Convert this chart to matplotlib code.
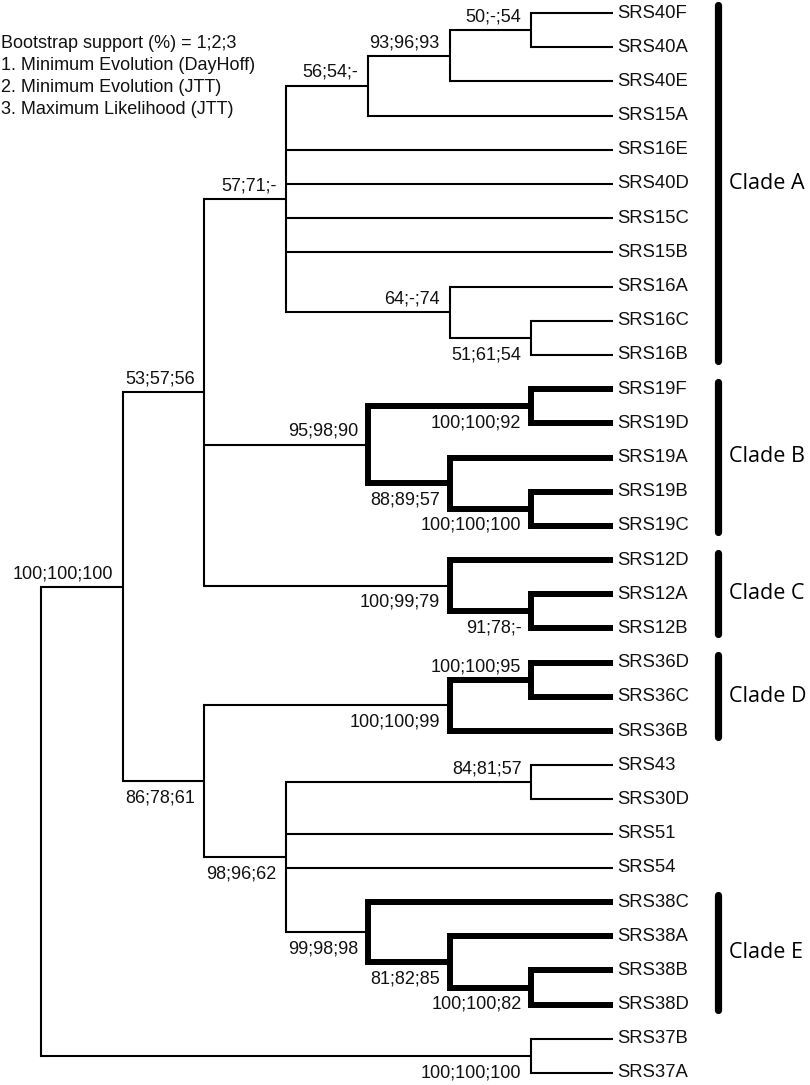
import matplotlib
matplotlib.use("Agg")
import matplotlib.pyplot as plt

# ---- DATA ----
# leaves, top to bottom
leaves = ["SRS40F", "SRS40A", "SRS40E", "SRS15A", "SRS16E", "SRS40D", "SRS15C",
          "SRS15B", "SRS16A", "SRS16C", "SRS16B", "SRS19F", "SRS19D", "SRS19A",
          "SRS19B", "SRS19C", "SRS12D", "SRS12A", "SRS12B", "SRS36D", "SRS36C",
          "SRS36B", "SRS43", "SRS30D", "SRS51", "SRS54", "SRS38C", "SRS38A",
          "SRS38B", "SRS38D", "SRS37B", "SRS37A"]
leaf_level = 7

# internal nodes
node_names = ["root", "ingroup", "ABC", "A", "n56", "n93", "n50", "n64", "n51",
              "B", "n19a", "n88", "n19b", "C", "n91", "DR", "D", "n36", "n98",
              "n84", "E", "n81", "n38", "n37"]
node_levels = [0, 1, 2, 3, 4, 5, 6, 5, 6,
               4, 6, 5, 6, 5, 6, 2, 5, 6, 3,
               6, 4, 5, 6, 6]
node_children = [
    ["ingroup", "n37"],
    ["ABC", "DR"],
    ["A", "B", "C"],
    ["n56", "SRS16E", "SRS40D", "SRS15C", "SRS15B", "n64"],
    ["n93", "SRS15A"],
    ["n50", "SRS40E"],
    ["SRS40F", "SRS40A"],
    ["SRS16A", "n51"],
    ["SRS16C", "SRS16B"],
    ["n19a", "n88"],
    ["SRS19F", "SRS19D"],
    ["SRS19A", "n19b"],
    ["SRS19B", "SRS19C"],
    ["SRS12D", "n91"],
    ["SRS12A", "SRS12B"],
    ["D", "n98"],
    ["n36", "SRS36B"],
    ["SRS36D", "SRS36C"],
    ["n84", "SRS51", "SRS54", "E"],
    ["SRS43", "SRS30D"],
    ["SRS38C", "n81"],
    ["SRS38A", "n38"],
    ["SRS38B", "SRS38D"],
    ["SRS37B", "SRS37A"],
]
node_support = ["", "100;100;100", "53;57;56", "57;71;-", "56;54;-", "93;96;93",
                "50;-;54", "64;-;74", "51;61;54", "95;98;90", "100;100;92",
                "88;89;57", "100;100;100", "100;99;79", "91;78;-", "86;78;61",
                "100;100;99", "100;100;95", "98;96;62", "84;81;57", "99;98;98",
                "81;82;85", "100;100;82", "100;100;100"]
# label above (a) or below (b) the branch
node_side = ["", "a", "a", "a", "a", "a", "a", "a", "b", "a", "b", "b", "b", "b",
             "b", "b", "b", "a", "b", "a", "b", "b", "b", "b"]
thick_roots = ["B", "C", "D", "E"]

clade_names = ["Clade A", "Clade B", "Clade C", "Clade D", "Clade E"]
clade_first = ["SRS40F", "SRS19F", "SRS12D", "SRS36D", "SRS38C"]
clade_last = ["SRS16B", "SRS19C", "SRS12B", "SRS36B", "SRS38D"]

legend_lines = ["Bootstrap support (%) = 1;2;3",
                "1. Minimum Evolution (DayHoff)",
                "2. Minimum Evolution (JTT)",
                "3. Maximum Likelihood (JTT)"]

# ---- build positions ----
children = dict(zip(node_names, node_children))
level = dict(zip(node_names, node_levels))
support = dict(zip(node_names, node_support))
side = dict(zip(node_names, node_side))
ypos = {}
for i, name in enumerate(leaves):
    ypos[name] = i
    level[name] = leaf_level


def get_y(n):
    if n not in ypos:
        ys = [get_y(c) for c in children[n]]
        ypos[n] = (ys[0] + ys[-1]) / 2.0
    return ypos[n]


get_y("root")

# thick subtrees
thick = set()


def mark(n):
    thick.add(n)
    for c in children.get(n, []):
        mark(c)


for r in thick_roots:
    mark(r)

FONT = ["Liberation Sans", "DejaVu Sans"]
THIN = 1.5
THICK = 4.3

fig = plt.figure(figsize=(8.1, 10.85), dpi=100)
ax = fig.add_axes([0, 0, 1, 1])
ax.axis("off")
# pixel mapping: level 0 -> x=41px, 81.7px per level; leaf 0 -> y=13px, 34.19px per leaf
ax.set_xlim(-41 / 81.7, 769 / 81.7)
ax.set_ylim(31 + 12 / 34.19, -13 / 34.19)

for n in node_names:
    ch = children[n]
    lw = THICK if n in thick else THIN
    ax.plot([level[n], level[n]], [ypos[ch[0]], ypos[ch[-1]]], color="black",
            lw=lw, solid_capstyle="projecting")
    for c in ch:
        ax.plot([level[n], level[c]], [ypos[c], ypos[c]], color="black",
                lw=lw, solid_capstyle="butt")
    # bootstrap label on the branch leading to this node
    if support[n]:
        dy = 9.5 if side[n] == "a" else -12
        ax.annotate(support[n], (level[n], ypos[n]), xytext=(-7, dy),
                    textcoords="offset points", ha="right", va="center",
                    fontsize=13, family=FONT, color="#111111")

for name in leaves:
    ax.annotate(name, (leaf_level, ypos[name]), xytext=(3, 0),
                textcoords="offset points", ha="left", va="center",
                fontsize=13.3, family=FONT, color="#111111")

# clade bars
bar_x = (718 - 41) / 81.7
lab_x = (729 - 41) / 81.7
for name, f, l in zip(clade_names, clade_first, clade_last):
    y0 = ypos[f] - 0.22
    y1 = ypos[l] + 0.17
    ax.plot([bar_x, bar_x], [y0, y1], color="black", lw=5.2,
            solid_capstyle="round")
    ax.text(lab_x, (y0 + y1) / 2, name, ha="left", va="center",
            fontsize=15.5, family=["Open Sans", "DejaVu Sans"])

for i, t in enumerate(legend_lines):
    fig.text(0.0015, 1 - (43 + 22 * i) / 1085, t, ha="left", va="center",
             fontsize=13, family=FONT, color="#111111")

fig.savefig("out.png", dpi=100)
